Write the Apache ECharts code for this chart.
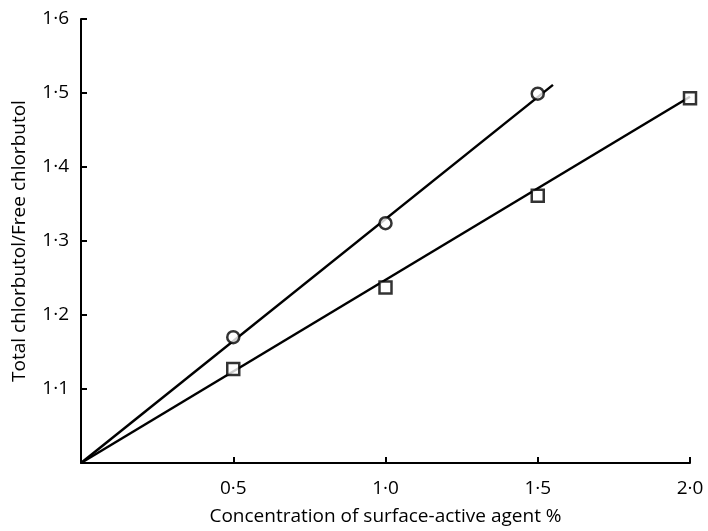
<!DOCTYPE html>
<html>
<head>
<meta charset="utf-8">
<script src="https://cdn.jsdelivr.net/npm/echarts@6/dist/echarts.min.js"></script>
<style>
  html, body { margin: 0; padding: 0; background: #fff; }
  #chart { width: 708px; height: 531px; }
</style>
</head>
<body>
<div id="chart"></div>
<script>
// concentration of surface-active agent (%)
const circleX = [0.5, 1.0, 1.5];
const circleY = [1.17, 1.324, 1.499];
const squareX = [0.5, 1.0, 1.5, 2.0];
const squareY = [1.127, 1.237, 1.361, 1.493];

// fitted straight lines through the origin point (0, 1.0)
const circleFitX = [0, 1.55];
const circleFitY = [1.0, 1.511];
const squareFitX = [0, 2.0];
const squareFitY = [1.0, 1.495];

const pairs = (xs, ys) => xs.map((x, i) => [x, ys[i]]);
const dotLabel = v => String(v.toFixed(1)).replace('.', '·');

const chart = echarts.init(document.getElementById('chart'));

const axisStyle = { lineStyle: { color: '#000', width: 2 } };
const font = 'Open Sans';

chart.setOption({
  animation: false,
  grid: { left: 81, right: 18, top: 19, bottom: 65 },
  xAxis: {
    type: 'value',
    min: 0,
    max: 2.0,
    interval: 0.5,
    name: 'Concentration of surface-active agent %',
    nameLocation: 'middle',
    nameGap: 44,
    nameTextStyle: { color: '#000', fontSize: 19, fontFamily: font },
    axisLine: axisStyle,
    axisTick: { inside: true, length: 6, lineStyle: { color: '#000', width: 2 } },
    axisLabel: {
      color: '#000', fontSize: 19, fontFamily: font, margin: 16,
      formatter: v => (v === 0 ? '' : dotLabel(v))
    },
    splitLine: { show: false }
  },
  yAxis: {
    type: 'value',
    min: 1.0,
    max: 1.6,
    interval: 0.1,
    name: 'Total chlorbutol/Free chlorbutol',
    nameLocation: 'middle',
    nameGap: 52,
    nameTextStyle: { color: '#000', fontSize: 19, fontFamily: font },
    axisLine: axisStyle,
    axisTick: { inside: true, length: 6, lineStyle: { color: '#000', width: 2 } },
    axisLabel: {
      color: '#000', fontSize: 19, fontFamily: font, margin: 12,
      formatter: v => (Math.abs(v - 1.0) < 1e-9 ? '' : dotLabel(v))
    },
    splitLine: { show: false }
  },
  series: [
    {
      type: 'line',
      data: pairs(circleFitX, circleFitY),
      showSymbol: false,
      lineStyle: { color: '#000', width: 2.5 },
      z: 2
    },
    {
      type: 'line',
      data: pairs(squareFitX, squareFitY),
      showSymbol: false,
      lineStyle: { color: '#000', width: 2.5 },
      z: 2
    },
    {
      type: 'scatter',
      data: pairs(circleX, circleY),
      symbol: 'circle',
      symbolSize: 12,
      itemStyle: { color: '#fff', borderColor: '#000', borderWidth: 2.5 },
      z: 3
    },
    {
      type: 'scatter',
      data: pairs(squareX, squareY),
      symbol: 'rect',
      symbolSize: 12,
      itemStyle: { color: '#fff', borderColor: '#000', borderWidth: 2.5 },
      z: 3
    }
  ]
});
</script>
</body>
</html>
